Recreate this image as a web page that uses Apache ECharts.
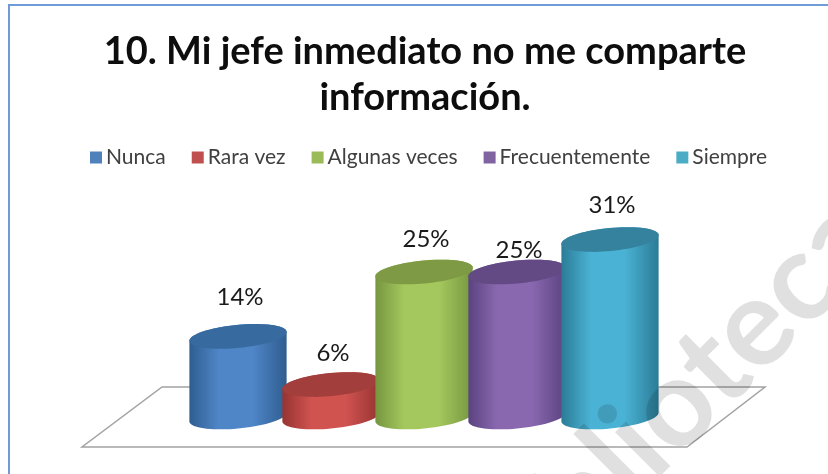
<!DOCTYPE html>
<html>
<head>
<meta charset="utf-8">
<style>
  html, body { margin: 0; padding: 0; background: #fff; }
  #grafico { width: 828px; height: 474px; }
</style>
<script src="https://cdn.jsdelivr.net/npm/echarts@6/dist/echarts.min.js"></script>
</head>
<body>
<div id="grafico"></div>
<script>
var categorias = ['Nunca', 'Rara vez', 'Algunas veces', 'Frecuentemente', 'Siempre'];
var valores = [13.9, 5.6, 25, 25, 30.6];

var coresLegenda = ['#4f81bd', '#c0504d', '#9bbb59', '#8064a2', '#4bacc6'];
var coresBorda = ['#2f5d8f', '#963431', '#76963f', '#5a4380', '#2b7c96'];
var coresMeio = ['#4f86c8', '#d05350', '#a5c85e', '#8a68b0', '#4ab2d4'];
var coresTopo = ['#376a9e', '#a23f3c', '#7f9a44', '#634a84', '#35829e'];
// how far above the top of each cylinder its label sits
var alturaRotulo = [39, 31, 33, 22, 34];

var TILT = -5.5 * Math.PI / 180;
var RY = 11.5;

// point on a tilted ellipse
function ponto(cx, cy, a, t) {
  return [
    cx + a * Math.cos(t) * Math.cos(TILT) - RY * Math.sin(t) * Math.sin(TILT),
    cy + a * Math.cos(t) * Math.sin(TILT) + RY * Math.sin(t) * Math.cos(TILT)
  ];
}

function elipse(cx, cy, a) {
  var pts = [];
  for (var i = 0; i < 72; i++) {
    pts.push(ponto(cx, cy, a, i / 72 * Math.PI * 2));
  }
  return pts;
}

function cilindro(indice) {
  return function (params, api) {
    var topo = api.coord([api.value(0), api.value(1)]);
    var base = api.coord([api.value(0), 0]);
    var a = api.size([1, 0])[0] * 0.525;
    var t0 = Math.atan2(-RY * Math.sin(TILT), a * Math.cos(TILT));
    var corpo = [];
    var i;
    // lower half of the base, then back along the upper half of the top
    for (i = 0; i <= 36; i++) {
      corpo.push(ponto(base[0], base[1], a, t0 + i / 36 * Math.PI));
    }
    for (i = 0; i <= 36; i++) {
      corpo.push(ponto(topo[0], topo[1], a, t0 + Math.PI + i / 36 * Math.PI));
    }
    return {
      type: 'group',
      children: [
        {
          type: 'polygon',
          shape: { points: corpo },
          style: {
            fill: new echarts.graphic.LinearGradient(0, 0, 1, 0, [
              { offset: 0, color: coresBorda[indice] },
              { offset: 0.3, color: coresMeio[indice] },
              { offset: 0.65, color: coresMeio[indice] },
              { offset: 1, color: coresBorda[indice] }
            ])
          }
        },
        {
          type: 'polygon',
          shape: { points: elipse(topo[0], topo[1], a) },
          style: { fill: coresTopo[indice] }
        },
        {
          type: 'text',
          style: {
            text: Math.round(api.value(1)) + '%',
            x: topo[0] + 2,
            y: topo[1] - alturaRotulo[indice],
            align: 'center',
            verticalAlign: 'middle',
            fill: '#1a1a1a',
            font: '24px Lato'
          }
        }
      ]
    };
  };
}

var myChart = echarts.init(document.getElementById('grafico'));

var series = categorias.map(function (nome, i) {
  return {
    name: nome,
    type: 'custom',
    coordinateSystem: 'cartesian2d',
    itemStyle: { color: coresLegenda[i] },
    data: [[nome, valores[i]]],
    renderItem: cilindro(i)
  };
});

var option = {
  animation: false,
  backgroundColor: '#fff',
  title: {
    text: '10. Mi jefe inmediato no me comparte\ninformación.',
    left: 420,
    top: 24,
    textAlign: 'center',
    textStyle: {
      fontFamily: 'Lato',
      fontWeight: 'bold',
      fontSize: 38,
      lineHeight: 46,
      color: '#0d0d0d'
    }
  },
  legend: {
    data: categorias,
    top: 142,
    left: 85,
    icon: 'rect',
    itemWidth: 12,
    itemHeight: 12,
    itemGap: 26,
    selectedMode: false,
    textStyle: {
      fontFamily: 'Lato',
      fontSize: 21,
      color: '#404040',
      padding: [0, 0, 0, -1]
    }
  },
  grid: { left: 191.5, width: 465, top: 214, height: 203 },
  xAxis: { type: 'category', data: categorias, show: false },
  yAxis: { type: 'value', min: 0, max: 35, show: false },
  graphic: [
    {
      type: 'polygon',
      z: 0,
      shape: { points: [[82, 447], [687, 447], [765, 387], [162, 387]] },
      style: { fill: '#fff', stroke: '#a3a3a3', lineWidth: 1.5 }
    },
    {
      type: 'polyline',
      z: 0,
      shape: { points: [[9, 474], [9, 5], [828, 5]] },
      style: { fill: 'none', stroke: '#6f9bd6', lineWidth: 2 }
    },
    {
      // faint library watermark running across the picture
      type: 'text',
      z: 100,
      x: 476.5,
      y: 604,
      rotation: Math.PI / 4,
      style: {
        text: 'Biblioteca',
        font: 'bold 123px Lato',
        fill: 'rgba(0,0,0,0.12)',
        align: 'left',
        verticalAlign: 'middle'
      }
    }
  ],
  series: series
};

myChart.setOption(option);
</script>
</body>
</html>
